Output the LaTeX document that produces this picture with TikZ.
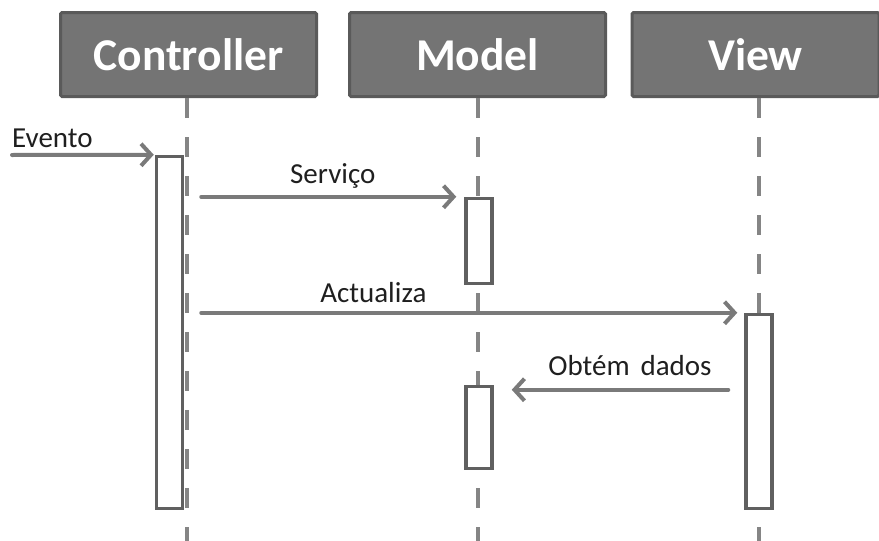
\documentclass[tikz,border=0pt]{standalone}
\usepackage{fontspec}
\setmainfont{Carlito}
\usetikzlibrary{arrows.meta,calc}

\definecolor{hdrfill}{HTML}{747474}
\definecolor{hdrline}{HTML}{5A5A5A}
\definecolor{actline}{HTML}{606060}
\definecolor{msgline}{HTML}{7A7A7A}
\definecolor{lifeline}{HTML}{858585}

\tikzset{
  head/.style={draw=hdrline, line width=3pt, fill=hdrfill, rounded corners=1.5pt,
    minimum height=84pt, text=white, font=\bfseries\fontsize{45.5}{48}\selectfont},
  life/.style={draw=lifeline, line width=4pt, dash pattern=on 20pt off 19pt},
  act/.style={draw=actline, line width=3.5pt, fill=white, minimum width=26pt, inner sep=0pt},
  msg/.style={draw=msgline, line width=4pt, -{Straight Barb[length=10pt,width=22pt]},
    line cap=round},
  lbl/.style={text=black!88, font=\fontsize{29}{32}\selectfont, inner sep=0pt}
}

\begin{document}
\begin{tikzpicture}[x=1pt,y=-1pt]
  \useasboundingbox (0,0) rectangle (879,541);
  % Participants
  \node[head, minimum width=256pt] (ctrl) at (188.5,54.5) {Controller};
  \node[head, minimum width=256pt] (model) at (477.5,54.5) {Model};
  \node[head, minimum width=247pt] (view) at (755.5,54.5) {View};
  % Lifelines
  \coordinate (bottom) at (0,545);
  \draw[life] (ctrl.south) ++(-1.5,0) -- (187,545);
  \draw[life] (model.south) -- (model.south |- bottom);
  \draw[life] ([xshift=3.5pt]view.south) -- ([xshift=3.5pt]view.south |- bottom);
  % Activations
  \node[act, minimum height=352pt] (ctrlact) at (169.5,332.5) {};
  \node[act, minimum height=85pt] (mact1) at (479,241) {};
  \node[act, minimum height=82pt] (mact2) at (479,427.5) {};
  \node[act, minimum height=194pt] (vact) at (759,411.5) {};
  % Messages
  \coordinate (evsrc) at (12,155);
  \draw[msg, shorten >=1pt] (evsrc) -- (ctrlact.north west);
  \node[lbl, anchor=base west] (evlbl) at (12,147) {Evento};
  \draw[msg, shorten >=8pt] ($(ctrlact.east |- mact1.north)+(17,0)$) -- (mact1.north west)
    node[lbl, midway, anchor=base, yshift=13pt] (svlbl) {Serviço};
  \draw[msg, shorten >=7pt] ($(ctrlact.east |- vact.north)+(17,0)$) -- (vact.north west)
    node[lbl, pos=0.317, anchor=base, yshift=10pt] (aclbl) {Actualiza};
  \draw[msg] ($(vact.west |- mact2.north)+(-16,5)$) -- ($(mact2.north east)+(18,5)$)
    node[lbl, pos=0.454, anchor=base, yshift=14pt] (oblbl) {Obtém\hspace{0.15em} dados};
\end{tikzpicture}
\end{document}
